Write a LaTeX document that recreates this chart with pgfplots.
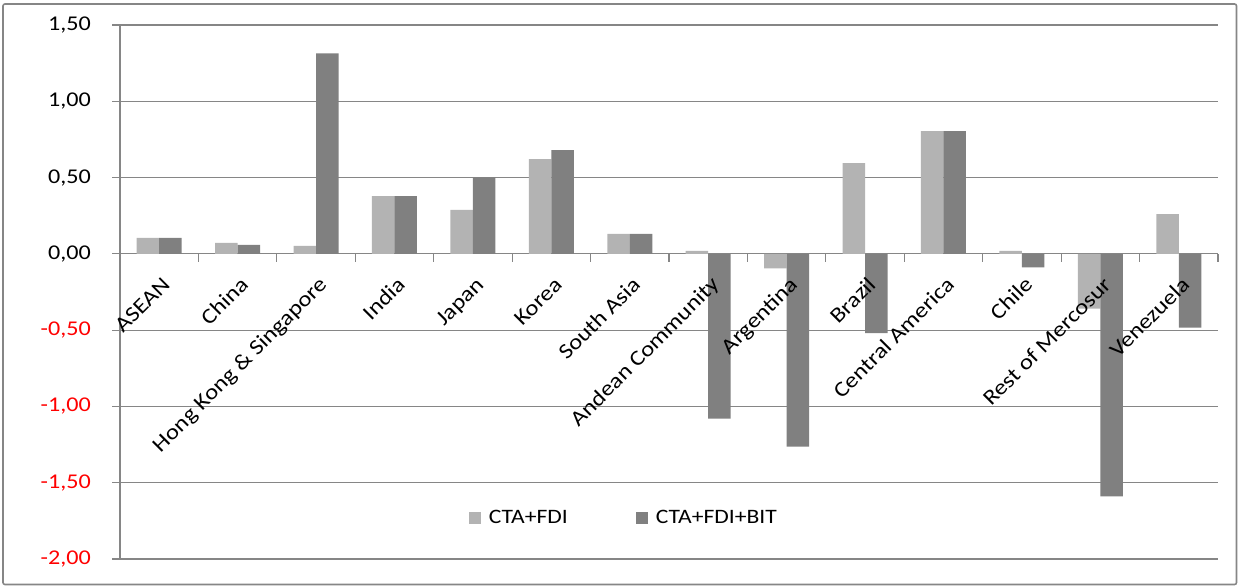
\documentclass[border=0pt]{standalone}
\usepackage{fontspec}
\setmainfont{Carlito}[FakeStretch=1.15]
\usepackage{pgfplots}
\pgfplotsset{compat=1.18}
\usetikzlibrary{calc}
\definecolor{lightbar}{RGB}{179,179,179}
\definecolor{darkbar}{RGB}{128,128,128}
\definecolor{gridc}{RGB}{134,134,134}
\newcommand{\lblfont}{\fontsize{21}{25}\selectfont}
\newcommand{\legfont}{\fontsize{20.5}{24}\selectfont}
\newcommand{\catfont}{\fontsize{21.5}{25}\selectfont}
\tikzset{cat/.style={font=\catfont, rotate=45, anchor=base east, inner sep=0pt}}
\begin{document}
\begin{tikzpicture}
\path[use as bounding box] (0,0) rectangle (1239pt,586pt);
\draw[gridc, line width=1.6pt, rounded corners=2pt] (3pt,1.5pt) rectangle (1236.5pt,582pt);
\begin{axis}[
  at={(120pt,27pt)}, anchor=south west,
  scale only axis, width=1098pt, height=534pt,
  xmin=-0.5, xmax=13.5, ymin=-2, ymax=1.5,
  axis x line*=middle, axis y line*=left,
  axis line style={gridc, line width=1.2pt, -},
  tick align=outside,
  major tick length=8pt,
  tick style={gridc, line width=1.2pt},
  ymajorgrids=true,
  major grid style={gridc, line width=1.2pt},
  ytick={-2,-1.5,-1,-0.5,0,0.5,1,1.5},
  yticklabels={{\textcolor{red}{-2,00}},{\textcolor{red}{-1,50}},{\textcolor{red}{-1,00}},{\textcolor{red}{-0,50}},{0,00},{0,50},{1,00},{1,50}},
  yticklabel style={font=\lblfont, anchor=east, inner sep=0pt, xshift=-21pt},
  xtick={-0.5,0.5,...,13.5},
  xticklabels={},
  clip=false,
  ybar=0pt, bar width=22.5pt,
  every axis plot post/.append style={legend image code/.code={\fill[##1] (0pt,-6pt) rectangle (12pt,6pt);}},
  legend style={at={(0.458,0.077)}, anchor=center, draw=none, fill=none, font=\legfont,
    legend columns=2, nodes={inner sep=0pt},
    /tikz/every odd column/.append style={column sep=8pt},
    /tikz/every even column/.append style={column sep=68pt}},
]
\addplot[fill=lightbar, draw=none] coordinates {
(0,0.105) (1,0.072) (2,0.052) (3,0.379) (4,0.288) (5,0.621) (6,0.131)
(7,0.020) (8,-0.096) (9,0.595) (10,0.804) (11,0.020) (12,-0.359) (13,0.261)};
\addplot[fill=darkbar, draw=none] coordinates {
(0,0.105) (1,0.059) (2,1.314) (3,0.379) (4,0.501) (5,0.680) (6,0.131)
(7,-1.080) (8,-1.263) (9,-0.520) (10,0.804) (11,-0.089) (12,-1.590) (13,-0.483)};
\legend{CTA+FDI, CTA+FDI+BIT}
\node[cat] at ($(axis cs:0,0)+(12pt,-32pt)$) {ASEAN};
\node[cat] at ($(axis cs:1,0)+(12pt,-32pt)$) {China};
\node[cat] at ($(axis cs:2,0)+(12pt,-32pt)$) {Hong Kong \& Singapore};
\node[cat] at ($(axis cs:3,0)+(12pt,-32pt)$) {India};
\node[cat] at ($(axis cs:4,0)+(12pt,-32pt)$) {Japan};
\node[cat] at ($(axis cs:5,0)+(12pt,-32pt)$) {Korea};
\node[cat] at ($(axis cs:6,0)+(12pt,-32pt)$) {South Asia};
\node[cat] at ($(axis cs:7,0)+(12pt,-32pt)$) {Andean Community};
\node[cat] at ($(axis cs:8,0)+(12pt,-32pt)$) {Argentina};
\node[cat] at ($(axis cs:9,0)+(12pt,-32pt)$) {Brazil};
\node[cat] at ($(axis cs:10,0)+(12pt,-32pt)$) {Central America};
\node[cat] at ($(axis cs:11,0)+(12pt,-32pt)$) {Chile};
\node[cat] at ($(axis cs:12,0)+(12pt,-32pt)$) {Rest of Mercosur};
\node[cat] at ($(axis cs:13,0)+(12pt,-32pt)$) {Venezuela};
\end{axis}
\end{tikzpicture}
\end{document}
